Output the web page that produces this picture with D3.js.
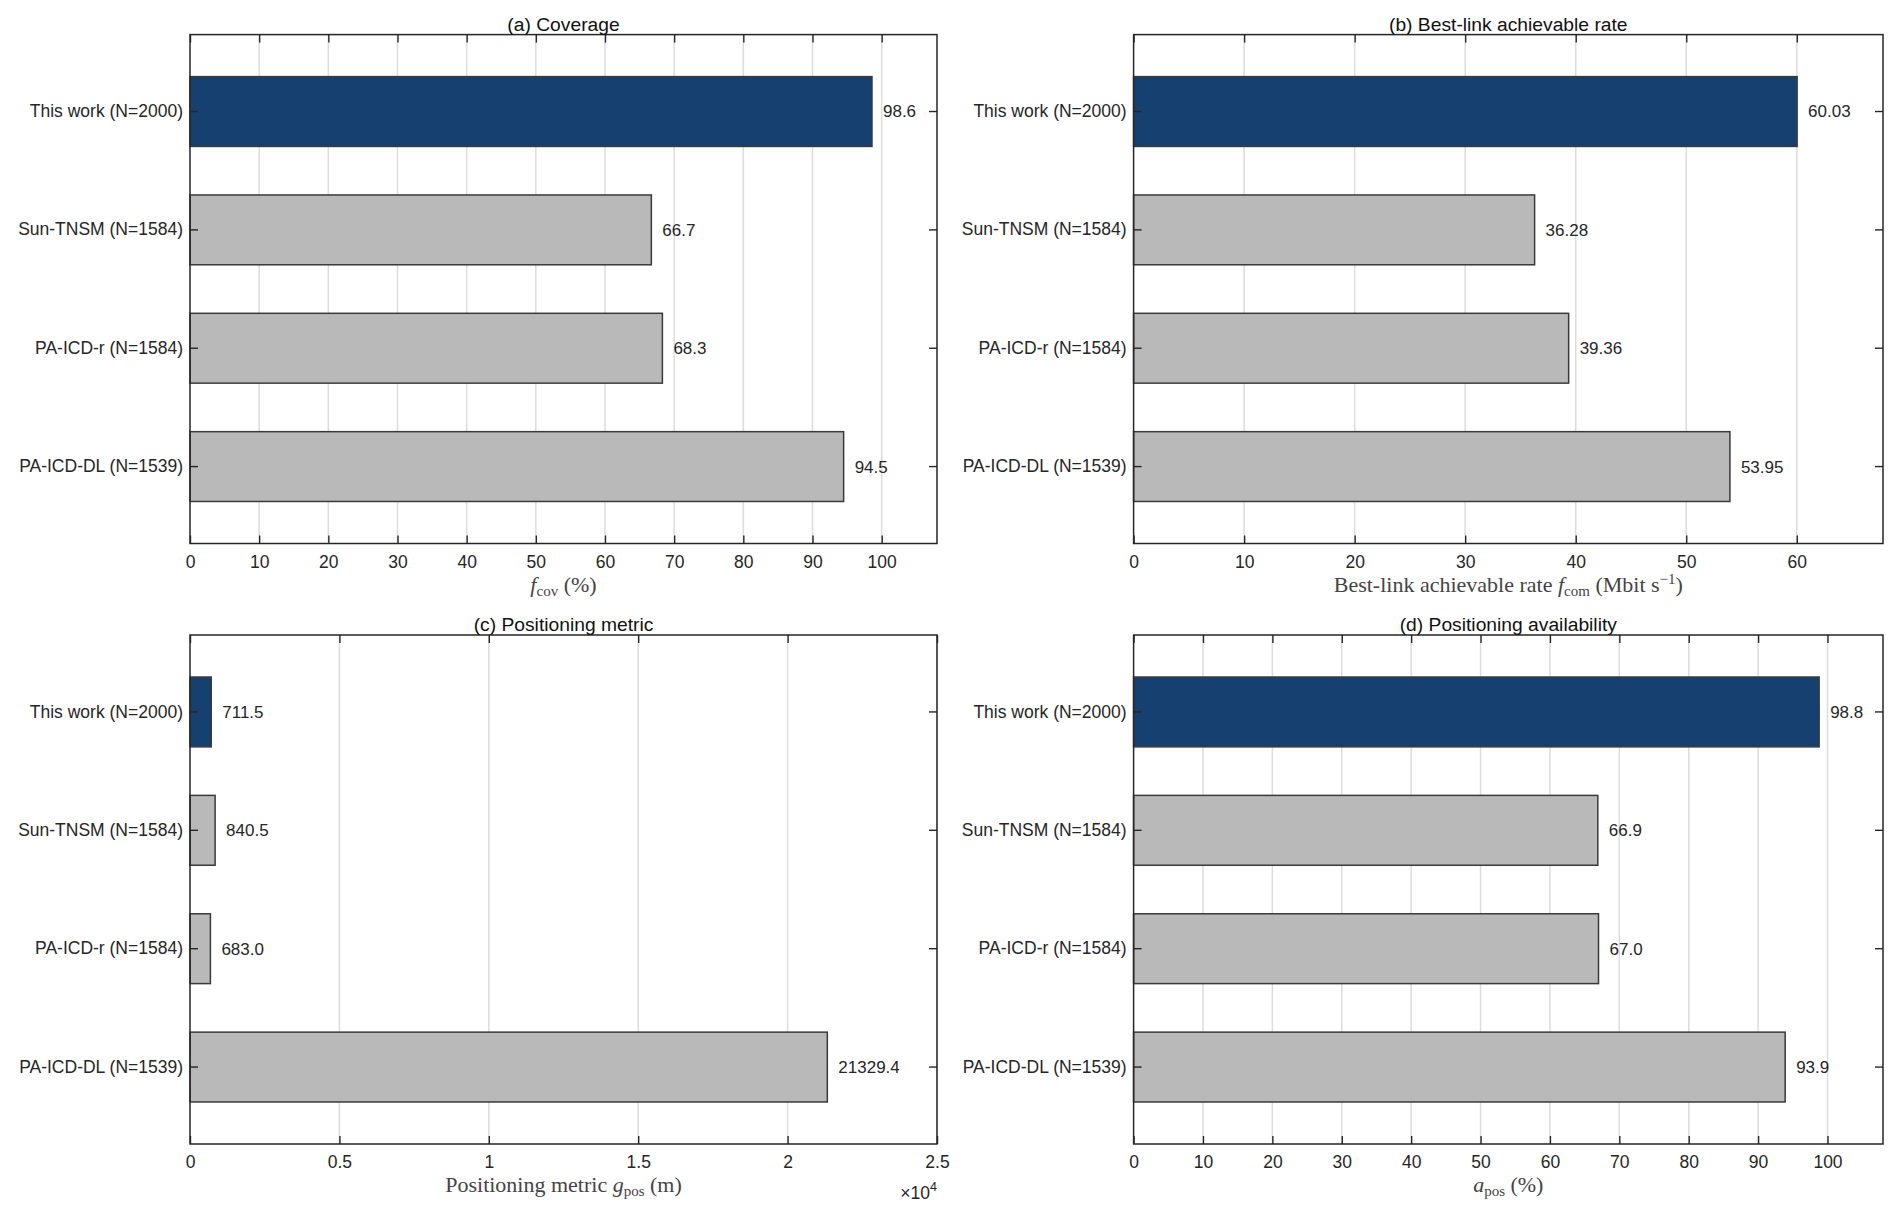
<!DOCTYPE html>
<html>
<head>
<meta charset="utf-8">
<script src="https://cdn.jsdelivr.net/npm/d3@7"></script>
<style>
  body { margin: 0; background: #fff; }
  svg { display: block; }
</style>
</head>
<body>
<div id="fig"></div>
<script>
// Method names, same order in every panel
const categories = ["This work (N=2000)", "Sun-TNSM (N=1584)", "PA-ICD-r (N=1584)", "PA-ICD-DL (N=1539)"];

// Values per panel
const coverage = [98.6, 66.7, 68.3, 94.5];
const rate = [60.03, 36.28, 39.36, 53.95];
const posMetric = [711.5, 840.5, 683.0, 21329.4];
const availability = [98.8, 66.9, 67.0, 93.9];

// Tick values and labels
const pctTicks = [0, 10, 20, 30, 40, 50, 60, 70, 80, 90, 100];
const rateTicks = [0, 10, 20, 30, 40, 50, 60];
const posTicks = [0, 5000, 10000, 15000, 20000, 25000];
const posTickLabels = ["0", "0.5", "1", "1.5", "2", "2.5"];

const W = 1897, H = 1212;
const svg = d3.select("#fig").append("svg")
  .attr("width", W)
  .attr("height", H);

const sans = "'Liberation Sans', Arial, Helvetica, sans-serif";
const serif = "'Liberation Serif', 'Times New Roman', serif";
const textCol = "#262626";
const blue = "#16406f";
const grey = "#b9b9b9";

// panel boxes (pixel layout)
const panels = [
  { title: "(a) Coverage", values: coverage, xmax: 108, ticks: pctTicks, fmt: d3.format(".1f"),
    box: { x0: 190, x1: 937, y0: 34.6, y1: 543.5 }, label: "cov" },
  { title: "(b) Best-link achievable rate", values: rate, xmax: 67.8, ticks: rateTicks, fmt: d3.format(".2f"),
    box: { x0: 1133.6, x1: 1883, y0: 34.6, y1: 543.5 }, label: "com" },
  { title: "(c) Positioning metric", values: posMetric, xmax: 25000, ticks: posTicks, tickLabels: posTickLabels,
    fmt: d3.format(".1f"), box: { x0: 190, x1: 937, y0: 635, y1: 1144 }, label: "pos" },
  { title: "(d) Positioning availability", values: availability, xmax: 108, ticks: pctTicks, fmt: d3.format(".1f"),
    box: { x0: 1133.6, x1: 1883, y0: 635, y1: 1144 }, label: "avail" }
];

function drawPanel(p) {
  const b = p.box;
  const g = svg.append("g");

  const x = d3.scaleLinear().domain([0, p.xmax]).range([b.x0, b.x1]);
  const y = d3.scaleBand().domain(categories).range([b.y0, b.y1])
    .paddingInner(0.41).paddingOuter(0.355);

  // grid lines
  g.append("g").selectAll("line")
    .data(p.ticks.filter(t => t > 0))
    .join("line")
    .attr("x1", d => x(d)).attr("x2", d => x(d))
    .attr("y1", b.y0).attr("y2", b.y1)
    .attr("stroke", "#dcdcdc")
    .attr("stroke-width", 1.5);

  // bars
  g.append("g").selectAll("rect")
    .data(p.values)
    .join("rect")
    .attr("x", x(0))
    .attr("y", (d, i) => y(categories[i]))
    .attr("width", d => x(d) - x(0))
    .attr("height", y.bandwidth())
    .attr("fill", (d, i) => i === 0 ? blue : grey)
    .attr("stroke", "#3a3a3a")
    .attr("stroke-width", 1.5);

  // value labels
  g.append("g").selectAll("text")
    .data(p.values)
    .join("text")
    .attr("x", d => x(d) + 11)
    .attr("y", (d, i) => y(categories[i]) + y.bandwidth() / 2)
    .attr("dy", "0.35em")
    .attr("font-family", sans)
    .attr("font-size", 17)
    .attr("fill", textCol)
    .text(d => p.fmt(d));

  // axes
  const tickFmt = p.tickLabels ? ((d, i) => p.tickLabels[i]) : d3.format("d");
  const xb = g.append("g")
    .attr("transform", `translate(0,${b.y1})`)
    .call(d3.axisBottom(x).tickValues(p.ticks).tickFormat(tickFmt).tickSize(-8).tickPadding(12));
  const xt = g.append("g")
    .attr("transform", `translate(0,${b.y0})`)
    .call(d3.axisTop(x).tickValues(p.ticks).tickFormat("").tickSize(-8));
  const yl = g.append("g")
    .attr("transform", `translate(${b.x0},0)`)
    .call(d3.axisLeft(y).tickSize(-8).tickPadding(7));
  const yr = g.append("g")
    .attr("transform", `translate(${b.x1},0)`)
    .call(d3.axisRight(y).tickFormat("").tickSize(-8));

  [xb, xt, yl, yr].forEach(a => {
    a.select(".domain").remove();
    a.selectAll(".tick line").attr("stroke", textCol).attr("stroke-width", 1.4);
    a.selectAll(".tick text")
      .attr("font-family", sans)
      .attr("font-size", 17.5)
      .attr("fill", textCol);
  });

  // box
  g.append("rect")
    .attr("x", b.x0).attr("y", b.y0)
    .attr("width", b.x1 - b.x0).attr("height", b.y1 - b.y0)
    .attr("fill", "none")
    .attr("stroke", textCol)
    .attr("stroke-width", 1.5);

  // title
  g.append("text")
    .attr("x", (b.x0 + b.x1) / 2)
    .attr("y", b.y0 - 4)
    .attr("text-anchor", "middle")
    .attr("font-family", sans)
    .attr("font-size", 19.25)
    .attr("fill", "#111")
    .text(p.title);

  // x label (LaTeX style)
  const lab = g.append("text")
    .attr("x", (b.x0 + b.x1) / 2)
    .attr("y", b.y1 + 48)
    .attr("text-anchor", "middle")
    .attr("font-family", serif)
    .attr("font-size", 22)
    .attr("fill", "#444");
  const sub = (t, s) => { t.append("tspan").attr("font-size", 15).attr("dy", 4).text(s); };
  if (p.label === "cov") {
    lab.append("tspan").attr("font-style", "italic").text("f");
    sub(lab, "cov");
    lab.append("tspan").attr("dy", -4).text(" (%)");
  } else if (p.label === "com") {
    lab.append("tspan").text("Best-link achievable rate ");
    lab.append("tspan").attr("font-style", "italic").text("f");
    sub(lab, "com");
    lab.append("tspan").attr("dy", -4).text(" (Mbit s");
    lab.append("tspan").attr("font-size", 15).attr("dy", -8).text("\u22121");
    lab.append("tspan").attr("dy", 8).text(")");
  } else if (p.label === "pos") {
    lab.append("tspan").text("Positioning metric ");
    lab.append("tspan").attr("font-style", "italic").text("g");
    sub(lab, "pos");
    lab.append("tspan").attr("dy", -4).text(" (m)");
    // exponent marker
    const ex = g.append("text")
      .attr("x", b.x1)
      .attr("y", b.y1 + 55)
      .attr("text-anchor", "end")
      .attr("font-family", sans)
      .attr("font-size", 17.5)
      .attr("fill", textCol);
    ex.append("tspan").text("\u00d710");
    ex.append("tspan").attr("font-size", 12.5).attr("dy", -8).text("4");
  } else {
    lab.append("tspan").attr("font-style", "italic").text("a");
    sub(lab, "pos");
    lab.append("tspan").attr("dy", -4).text(" (%)");
  }
}

panels.forEach(drawPanel);
</script>
</body>
</html>
